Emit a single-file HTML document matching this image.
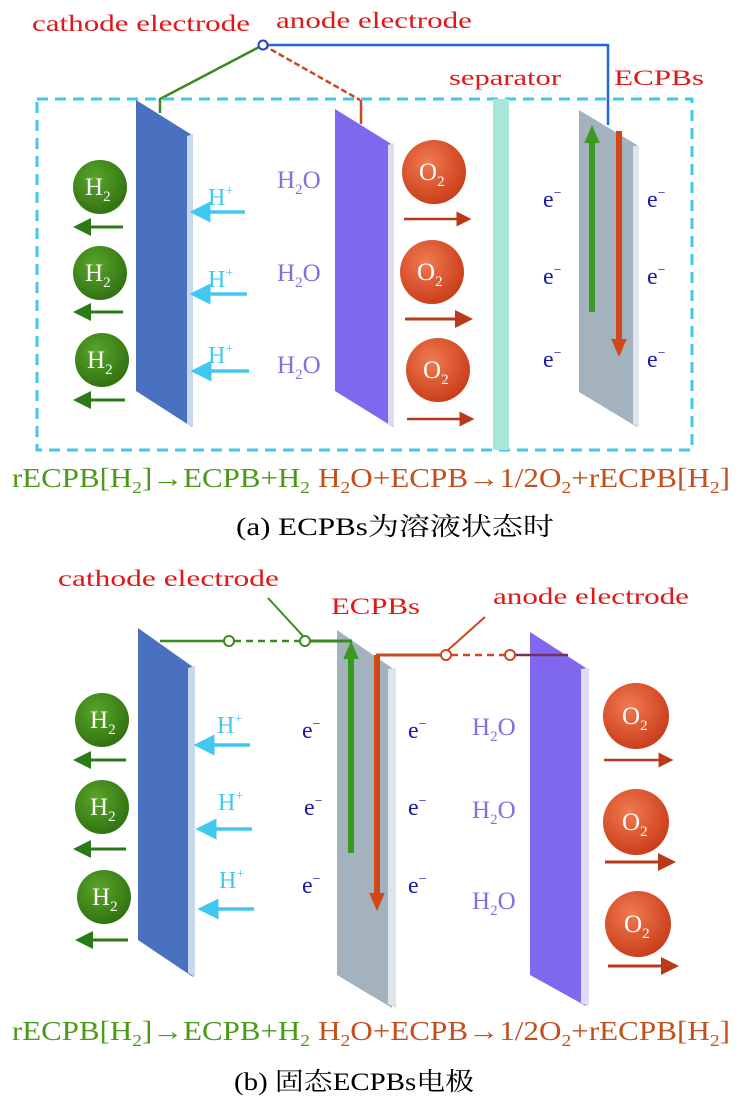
<!DOCTYPE html>
<html><head><meta charset="utf-8"><style>
html,body{margin:0;padding:0;background:#fff;}
svg{display:block;}
text{font-family:"Liberation Serif","Noto Serif CJK SC",serif;}
</style></head><body>
<svg width="744" height="1114" viewBox="0 0 744 1114" xmlns="http://www.w3.org/2000/svg">
<defs>
<radialGradient id="gg" cx="0.4" cy="0.35" r="0.7"><stop offset="0" stop-color="#5aa62a"/><stop offset="1" stop-color="#2f6f10"/></radialGradient>
<radialGradient id="og" cx="0.4" cy="0.35" r="0.7"><stop offset="0" stop-color="#f07a50"/><stop offset="1" stop-color="#c83a18"/></radialGradient>
<marker id="ag" markerWidth="6" markerHeight="6" refX="3" refY="3" orient="auto"><path d="M0,0L6,3L0,6z" fill="#2a7a18"/></marker>
<marker id="ac" markerWidth="6" markerHeight="6" refX="3" refY="3" orient="auto"><path d="M0,0L6,3L0,6z" fill="#40c8f0"/></marker>
<marker id="ar" markerWidth="6" markerHeight="6" refX="3" refY="3" orient="auto"><path d="M0,0L6,3L0,6z" fill="#b83a18"/></marker>
<marker id="aG" markerWidth="3" markerHeight="2.6" refX="0.5" refY="1.3" orient="auto"><path d="M0,0L3,1.3L0,2.6z" fill="#3a9a20"/></marker>
<marker id="aR" markerWidth="3" markerHeight="2.6" refX="0.5" refY="1.3" orient="auto"><path d="M0,0L3,1.3L0,2.6z" fill="#d04818"/></marker>
</defs>

<!-- ===== Panel (a) ===== -->
<text x="32" y="31" font-size="23" fill="#e01818" textLength="218" lengthAdjust="spacingAndGlyphs">cathode electrode</text>
<text x="276" y="28" font-size="23" fill="#e01818" textLength="196" lengthAdjust="spacingAndGlyphs">anode electrode</text>
<text x="449" y="85" font-size="22" fill="#e01818" textLength="112" lengthAdjust="spacingAndGlyphs">separator</text>
<text x="614" y="85" font-size="22" fill="#e01818" textLength="90" lengthAdjust="spacingAndGlyphs">ECPBs</text>

<polyline points="263,45 160,99 160,113" fill="none" stroke="#3a8a20" stroke-width="2.5"/>
<line x1="263" y1="45" x2="360" y2="100" stroke="#c84820" stroke-width="2.5" stroke-dasharray="6,3"/>
<line x1="361" y1="100" x2="361" y2="124" stroke="#c84820" stroke-width="2.5"/>
<polyline points="263,45 608,45 608,125" fill="none" stroke="#2266dd" stroke-width="2.5"/>
<circle cx="263" cy="45" r="4.5" fill="#fff" stroke="#2244bb" stroke-width="2"/>

<rect x="37" y="99" width="655" height="351" fill="none" stroke="#40c8e8" stroke-width="3" stroke-dasharray="11,7"/>
<rect x="493" y="99" width="16" height="351" fill="#a8e6da"/>

<polygon points="136,100 192,135 192,427 136,391" fill="#4a70c0"/>
<polygon points="187,136 193,134 193,427 187,424" fill="#c8d8ec"/>
<polygon points="335,109 393,145 393,427 335,391" fill="#8068ee"/>
<polygon points="388,145 394,143 394,427 388,424" fill="#dcdcf4"/>
<polygon points="579,110 637,145 637,427 579,392" fill="#a4b2be"/>
<polygon points="633,146 639,146 639,427 633,424" fill="#dde4ea"/>

<line x1="592" y1="312" x2="592" y2="140" stroke="#3a9a20" stroke-width="6" marker-end="url(#aG)"/>
<line x1="619" y1="131" x2="619" y2="342" stroke="#d04818" stroke-width="6" marker-end="url(#aR)"/>

<g font-size="24" fill="#1a1aa8">
<text x="543" y="207">e<tspan font-size="14" dy="-10">−</tspan></text>
<text x="647" y="207">e<tspan font-size="14" dy="-10">−</tspan></text>
<text x="543" y="284">e<tspan font-size="14" dy="-10">−</tspan></text>
<text x="647" y="284">e<tspan font-size="14" dy="-10">−</tspan></text>
<text x="543" y="367">e<tspan font-size="14" dy="-10">−</tspan></text>
<text x="647" y="367">e<tspan font-size="14" dy="-10">−</tspan></text>
</g>

<g font-size="25" fill="#fff">
<circle cx="100" cy="187" r="27" fill="url(#gg)"/><text x="85" y="195">H<tspan font-size="15" dy="6">2</tspan></text>
<circle cx="100" cy="273" r="27" fill="url(#gg)"/><text x="85" y="281">H<tspan font-size="15" dy="6">2</tspan></text>
<circle cx="102" cy="360" r="27" fill="url(#gg)"/><text x="87" y="368">H<tspan font-size="15" dy="6">2</tspan></text>
</g>
<g stroke="#2a7a18" stroke-width="3">
<line x1="123" y1="227" x2="82" y2="227" marker-end="url(#ag)"/>
<line x1="123" y1="312" x2="82" y2="312" marker-end="url(#ag)"/>
<line x1="125" y1="400" x2="82" y2="400" marker-end="url(#ag)"/>
</g>
<g font-size="24" fill="#40c8f0">
<text x="208" y="205">H<tspan font-size="14" dy="-10">+</tspan></text>
<text x="208" y="287">H<tspan font-size="14" dy="-10">+</tspan></text>
<text x="208" y="363">H<tspan font-size="14" dy="-10">+</tspan></text>
</g>
<g stroke="#40c8f0" stroke-width="3.5">
<line x1="245" y1="212" x2="200" y2="212" marker-end="url(#ac)"/>
<line x1="247" y1="294" x2="200" y2="294" marker-end="url(#ac)"/>
<line x1="249" y1="371" x2="201" y2="371" marker-end="url(#ac)"/>
</g>
<g font-size="25" fill="#8070e0">
<text x="277" y="188">H<tspan font-size="15" dy="6">2</tspan><tspan dy="-6">O</tspan></text>
<text x="277" y="281">H<tspan font-size="15" dy="6">2</tspan><tspan dy="-6">O</tspan></text>
<text x="277" y="373">H<tspan font-size="15" dy="6">2</tspan><tspan dy="-6">O</tspan></text>
</g>
<g font-size="25" fill="#fff">
<circle cx="434" cy="172" r="32" fill="url(#og)"/><text x="419" y="180">O<tspan font-size="15" dy="6">2</tspan></text>
<circle cx="432" cy="272" r="32" fill="url(#og)"/><text x="417" y="280">O<tspan font-size="15" dy="6">2</tspan></text>
<circle cx="438" cy="370" r="32" fill="url(#og)"/><text x="423" y="378">O<tspan font-size="15" dy="6">2</tspan></text>
</g>
<g stroke="#b83a18" stroke-width="2.5">
<line x1="404" y1="219" x2="464" y2="219" marker-end="url(#ar)"/>
<line x1="405" y1="319" x2="464" y2="319" stroke-width="3" marker-end="url(#ar)"/>
<line x1="407" y1="419" x2="467" y2="419" marker-end="url(#ar)"/>
</g>

<text x="12" y="487" font-size="27" fill="#4a9a18" textLength="298" lengthAdjust="spacingAndGlyphs">rECPB[H<tspan font-size="17" dy="6">2</tspan><tspan dy="-6">]→ECPB+H</tspan><tspan font-size="17" dy="6">2</tspan></text>
<text x="318" y="487" font-size="27" fill="#c0501e" textLength="412" lengthAdjust="spacingAndGlyphs">H<tspan font-size="17" dy="6">2</tspan><tspan dy="-6">O+ECPB→1/2O</tspan><tspan font-size="17" dy="6">2</tspan><tspan dy="-6">+rECPB[H</tspan><tspan font-size="17" dy="6">2</tspan><tspan dy="-6">]</tspan></text>
<text x="236" y="535" font-size="25" fill="#000" textLength="318" lengthAdjust="spacingAndGlyphs">(a) ECPBs为溶液状态时</text>

<!-- ===== Panel (b) ===== -->
<text x="58" y="586" font-size="23" fill="#e01818" textLength="221" lengthAdjust="spacingAndGlyphs">cathode electrode</text>
<text x="331" y="614" font-size="23" fill="#e01818" textLength="89" lengthAdjust="spacingAndGlyphs">ECPBs</text>
<text x="493" y="604" font-size="23" fill="#e01818" textLength="196" lengthAdjust="spacingAndGlyphs">anode electrode</text>

<polygon points="138,628 193,667 193,977 138,940" fill="#4a70c0"/>
<polygon points="188,668 195,666 195,977 188,973" fill="#c8d8ec"/>
<polygon points="337,630 392,668 392,1008 337,975" fill="#a4b2be"/>
<polygon points="388,669 396,668 396,1008 388,1004" fill="#dde4ea"/>
<polygon points="530,632 586,668 586,1006 530,975" fill="#8068ee"/>
<polygon points="581,669 589,668 589,1006 581,1003" fill="#dcdcf4"/>

<line x1="160" y1="641" x2="224" y2="641" stroke="#3a8a20" stroke-width="2.5"/>
<line x1="234" y1="641" x2="300" y2="641" stroke="#3a8a20" stroke-width="2.5" stroke-dasharray="7,5"/>
<line x1="310" y1="641" x2="352" y2="641" stroke="#3a8a20" stroke-width="3"/>
<line x1="303" y1="636" x2="268" y2="598" stroke="#3a8a20" stroke-width="2"/>
<circle cx="229" cy="641" r="5" fill="#fff" stroke="#3a8a20" stroke-width="2"/>
<circle cx="305" cy="641" r="5" fill="#fff" stroke="#3a8a20" stroke-width="2"/>
<line x1="351" y1="853" x2="351" y2="656" stroke="#3a9a20" stroke-width="6" marker-end="url(#aG)"/>
<line x1="376" y1="655" x2="441" y2="655" stroke="#c84820" stroke-width="3"/>
<line x1="451" y1="655" x2="505" y2="655" stroke="#c84820" stroke-width="2.5" stroke-dasharray="7,5"/>
<line x1="515" y1="655" x2="568" y2="655" stroke="#703060" stroke-width="2.5"/>
<line x1="448" y1="650" x2="485" y2="617" stroke="#c84820" stroke-width="2"/>
<circle cx="446" cy="655" r="5" fill="#fff" stroke="#c84820" stroke-width="2"/>
<circle cx="510" cy="655" r="5" fill="#fff" stroke="#c84820" stroke-width="2"/>
<line x1="377" y1="655" x2="377" y2="896" stroke="#d04818" stroke-width="6" marker-end="url(#aR)"/>

<g font-size="25" fill="#fff">
<circle cx="102" cy="720" r="27" fill="url(#gg)"/><text x="90" y="728">H<tspan font-size="15" dy="6">2</tspan></text>
<circle cx="102" cy="807" r="27" fill="url(#gg)"/><text x="90" y="815">H<tspan font-size="15" dy="6">2</tspan></text>
<circle cx="104" cy="897" r="27" fill="url(#gg)"/><text x="92" y="905">H<tspan font-size="15" dy="6">2</tspan></text>
</g>
<g stroke="#2a7a18" stroke-width="3">
<line x1="126" y1="760" x2="82" y2="760" marker-end="url(#ag)"/>
<line x1="126" y1="849" x2="82" y2="849" marker-end="url(#ag)"/>
<line x1="128" y1="940" x2="84" y2="940" marker-end="url(#ag)"/>
</g>
<g font-size="24" fill="#40c8f0">
<text x="217" y="733">H<tspan font-size="14" dy="-10">+</tspan></text>
<text x="218" y="810">H<tspan font-size="14" dy="-10">+</tspan></text>
<text x="219" y="888">H<tspan font-size="14" dy="-10">+</tspan></text>
</g>
<g stroke="#40c8f0" stroke-width="3.5">
<line x1="250" y1="745" x2="204" y2="745" marker-end="url(#ac)"/>
<line x1="252" y1="829" x2="206" y2="829" marker-end="url(#ac)"/>
<line x1="254" y1="909" x2="208" y2="909" marker-end="url(#ac)"/>
</g>
<g font-size="24" fill="#1a1aa8">
<text x="302" y="738">e<tspan font-size="14" dy="-10">−</tspan></text>
<text x="408" y="738">e<tspan font-size="14" dy="-10">−</tspan></text>
<text x="304" y="815">e<tspan font-size="14" dy="-10">−</tspan></text>
<text x="408" y="815">e<tspan font-size="14" dy="-10">−</tspan></text>
<text x="302" y="893">e<tspan font-size="14" dy="-10">−</tspan></text>
<text x="408" y="893">e<tspan font-size="14" dy="-10">−</tspan></text>
</g>
<g font-size="25" fill="#8070e0">
<text x="472" y="735">H<tspan font-size="15" dy="6">2</tspan><tspan dy="-6">O</tspan></text>
<text x="472" y="818">H<tspan font-size="15" dy="6">2</tspan><tspan dy="-6">O</tspan></text>
<text x="472" y="909">H<tspan font-size="15" dy="6">2</tspan><tspan dy="-6">O</tspan></text>
</g>
<g font-size="25" fill="#fff">
<circle cx="636" cy="716" r="33" fill="url(#og)"/><text x="622" y="724">O<tspan font-size="15" dy="6">2</tspan></text>
<circle cx="636" cy="822" r="33" fill="url(#og)"/><text x="622" y="830">O<tspan font-size="15" dy="6">2</tspan></text>
<circle cx="638" cy="924" r="33" fill="url(#og)"/><text x="624" y="932">O<tspan font-size="15" dy="6">2</tspan></text>
</g>
<g stroke="#b83a18" stroke-width="2.5">
<line x1="604" y1="760" x2="666" y2="760" marker-end="url(#ar)"/>
<line x1="605" y1="862" x2="667" y2="862" stroke-width="3" marker-end="url(#ar)"/>
<line x1="608" y1="966" x2="670" y2="966" stroke-width="3" marker-end="url(#ar)"/>
</g>

<text x="12" y="1040" font-size="27" fill="#4a9a18" textLength="298" lengthAdjust="spacingAndGlyphs">rECPB[H<tspan font-size="17" dy="6">2</tspan><tspan dy="-6">]→ECPB+H</tspan><tspan font-size="17" dy="6">2</tspan></text>
<text x="318" y="1040" font-size="27" fill="#c0501e" textLength="412" lengthAdjust="spacingAndGlyphs">H<tspan font-size="17" dy="6">2</tspan><tspan dy="-6">O+ECPB→1/2O</tspan><tspan font-size="17" dy="6">2</tspan><tspan dy="-6">+rECPB[H</tspan><tspan font-size="17" dy="6">2</tspan><tspan dy="-6">]</tspan></text>
<text x="234" y="1090" font-size="25" fill="#000" textLength="240" lengthAdjust="spacingAndGlyphs">(b) 固态ECPBs电极</text>
</svg>
</body></html>
